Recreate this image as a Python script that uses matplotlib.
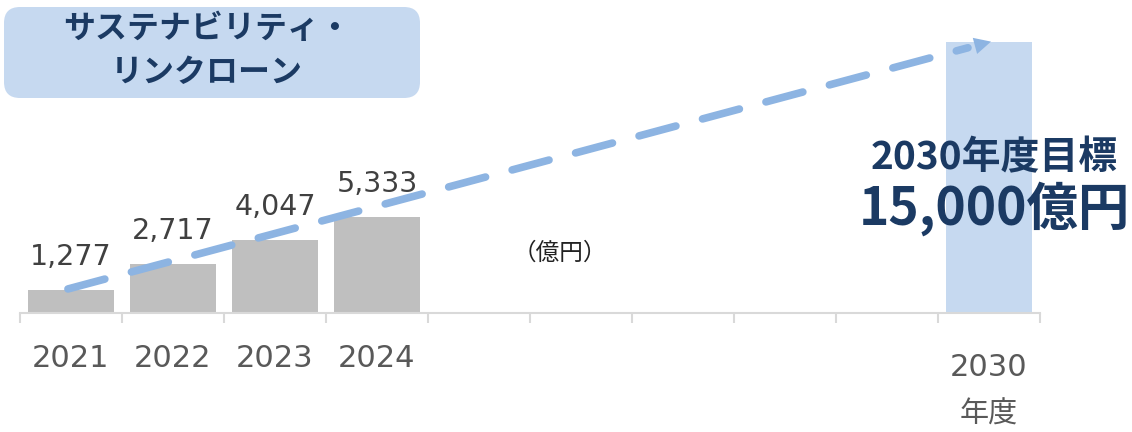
import matplotlib.pyplot as plt
from matplotlib.patches import FancyBboxPatch
from matplotlib.transforms import blended_transform_factory, IdentityTransform

# data
years = ['2021', '2022', '2023', '2024', '', '', '', '', '', '2030']
values = [1277, 2717, 4047, 5333, 0, 0, 0, 0, 0, 15000]
value_labels = ['1,277', '2,717', '4,047', '5,333']
target_label = '15,000億円'
target_title = '2030年度目標'
unit = '（億円）'
box_title = 'サステナビリティ・\nリンクローン'

# trend arrow (data coords)
arrow_start = (-0.03, 1330)
arrow_end = (9.02, 15020)

navy = '#1b3a63'
gray_bar = '#bfbfbf'
blue_bar = '#c6d9f0'
arrow_blue = '#8db4e2'
num_font = ['DejaVu Sans', 'Noto Sans CJK JP']
jp_font = ['Noto Sans CJK JP', 'DejaVu Sans']

W, H = 1132, 432
fig = plt.figure(figsize=(W/100, H/100), dpi=100)
ax = fig.add_axes([20/W, 119/H, 1020/W, 300/H])

x = list(range(len(years)))
colors = [gray_bar]*9 + [blue_bar]
ax.bar(x, values, width=0.84, color=colors, zorder=1)

ax.set_xlim(-0.5, 9.5)
ax.set_ylim(0, 300/0.01807)

for s in ['top', 'right', 'left']:
    ax.spines[s].set_visible(False)
ax.spines['bottom'].set_color('#d9d9d9')
ax.spines['bottom'].set_linewidth(1.5)
ax.set_yticks([])
ax.set_xticks([i - 0.5 for i in range(11)])
ax.set_xticklabels([])
ax.tick_params(axis='x', length=7, width=1.5, color='#d9d9d9')

# year labels
tr = blended_transform_factory(ax.transData, ax.transAxes)
for i, y in enumerate(years[:4]):
    ax.text(i, -0.152, y, transform=tr, ha='center', va='center',
            fontsize=22, color='#595959', family=num_font)
ax.text(9, -0.18, years[9], transform=tr, ha='center', va='center',
        fontsize=22, color='#595959', family=num_font)
ax.text(9, -0.34, '年度', transform=tr, ha='center', va='center',
        fontsize=21, color='#595959', family=jp_font)

# value labels
for i, lab in enumerate(value_labels):
    ax.text(i, values[i] + 1050, lab, ha='center', va='bottom',
            fontsize=20.5, color='#404040', family=num_font)

# dashed trend arrow
head_frac = 0.975
hx = arrow_start[0] + (arrow_end[0] - arrow_start[0]) * head_frac
hy = arrow_start[1] + (arrow_end[1] - arrow_start[1]) * head_frac
ax.plot([arrow_start[0], hx], [arrow_start[1], hy], color=arrow_blue,
        lw=5.5, dashes=(5, 3.6), solid_capstyle='round', dash_capstyle='round', zorder=3)
ax.annotate('', xy=arrow_end, xytext=(hx, hy),
            arrowprops=dict(arrowstyle='-|>,head_length=1.2,head_width=0.6',
                            color=arrow_blue, lw=0, shrinkA=0, shrinkB=0), zorder=3)

# unit
fig.text(560/W, 1 - 253/H, unit, ha='center', va='center',
         fontsize=17, color='#222222', family=jp_font)

# target text
fig.text(994/W, 1 - 158/H, target_title, ha='center', va='center',
         fontsize=28, color=navy, fontweight='bold', family=jp_font)
fig.text(994/W, 1 - 209/H, target_label, ha='center', va='center',
         fontsize=37, color=navy, fontweight='bold', family=jp_font)

# title box (pixel coords)
box = FancyBboxPatch((4, H - 98), 416, 91,
                     boxstyle='round,pad=0,rounding_size=16',
                     transform=IdentityTransform(), facecolor=blue_bar,
                     edgecolor='none')
fig.patches.append(box)
fig.text(207/W, 1 - 51/H, box_title, ha='center', va='center',
         fontsize=23, color=navy, fontweight='bold', family=jp_font,
         linespacing=1.45)

plt.savefig('out.png', dpi=100)
